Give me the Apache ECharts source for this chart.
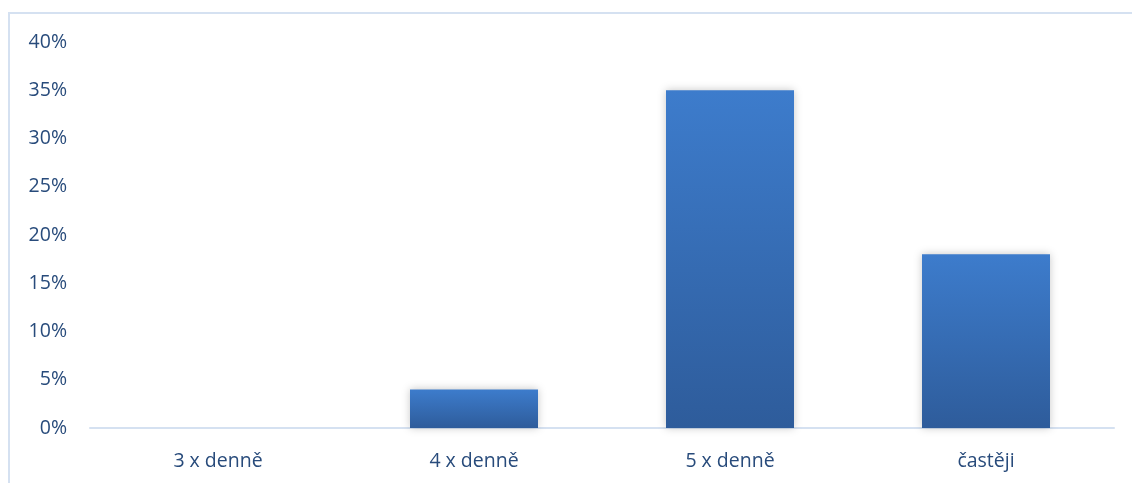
<!DOCTYPE html>
<html>
<head>
<meta charset="utf-8">
<style>
  html, body { margin: 0; padding: 0; background: #ffffff; }
  #chart { width: 1132px; height: 483px; }
</style>
<script src="https://cdn.jsdelivr.net/npm/echarts@6/dist/echarts.min.js"></script>
</head>
<body>
<div id="chart"></div>
<script>
// Frequency categories and their shares (percent)
const categories = ['3 x denně', '4 x denně', '5 x denně', 'častěji'];
const shares = [0, 4, 35, 18];

const chart = echarts.init(document.getElementById('chart'), null, { renderer: 'canvas' });

const labelColor = '#284b7b';
const fontFamily = '"Open Sans", "Noto Sans", sans-serif';

chart.setOption({
  backgroundColor: '#ffffff',
  animation: false,
  graphic: [{
    type: 'rect',
    shape: { x: 9, y: 13, width: 1200, height: 600 },
    style: { fill: 'none', stroke: '#d5e1f1', lineWidth: 2 },
    silent: true,
    z: -1
  }],
  grid: { left: 90, right: 18, top: 42, bottom: 55 },
  xAxis: {
    type: 'category',
    data: categories,
    axisLine: { lineStyle: { color: '#d5e1f1', width: 2 } },
    axisTick: { show: false },
    axisLabel: { color: labelColor, fontSize: 19.5, fontFamily: fontFamily, margin: 23 }
  },
  yAxis: {
    type: 'value',
    min: 0,
    max: 40,
    interval: 5,
    splitLine: { show: false },
    axisLine: { show: false },
    axisTick: { show: false },
    axisLabel: {
      color: labelColor, fontSize: 19.5, fontFamily: fontFamily, margin: 23,
      formatter: v => v + '%'
    }
  },
  series: [{
    type: 'bar',
    data: shares,
    barWidth: '50%',
    itemStyle: {
      color: new echarts.graphic.LinearGradient(0, 0, 0, 1, [
        { offset: 0, color: '#3d7ccc' },
        { offset: 1, color: '#2e5c9b' }
      ]),
      shadowBlur: 8,
      shadowColor: 'rgba(0,0,0,0.22)'
    }
  }]
});
</script>
</body>
</html>
